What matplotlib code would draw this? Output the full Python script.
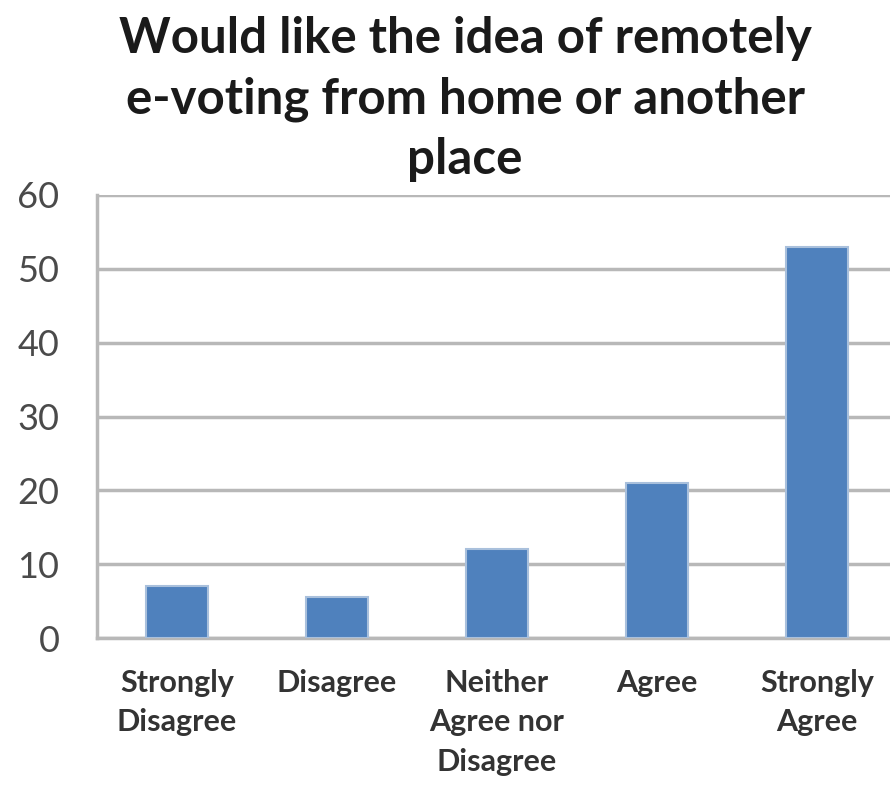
import numpy as np
import matplotlib.pyplot as plt

categories = ['Strongly\nDisagree', 'Disagree', 'Neither\nAgree nor\nDisagree', 'Agree', 'Strongly\nAgree']
values = [7, 5.5, 12, 21, 53]
yticks = [0, 10, 20, 30, 40, 50, 60]

plt.rcParams['font.family'] = ['Lato', 'DejaVu Sans']

fig = plt.figure(figsize=(8.9, 7.87), dpi=100)
ax = fig.add_axes([97 / 890, 149 / 787, 800 / 890, 443 / 787])

x = np.arange(len(categories))
ax.bar(x, values, width=0.39, color='#4F81BD', edgecolor='#A9C0DC', linewidth=1.5, zorder=3)

ax.set_xlim(-0.5, 4.5)
ax.set_ylim(0, 60)
ax.set_yticks(yticks)
ax.set_yticklabels([str(t) for t in yticks], fontsize=26, color='#4a4a4a')
ax.set_xticks(x)
ax.set_xticklabels(categories, fontsize=22, fontweight='bold', color='#333333', linespacing=1.5)
ax.tick_params(axis='both', length=0)
ax.tick_params(axis='y', pad=27)
ax.tick_params(axis='x', pad=22)

ax.grid(axis='y', color='#B8B8B8', linewidth=2.5, zorder=0)
for side in ['top', 'right']:
    ax.spines[side].set_visible(False)
for side in ['left', 'bottom']:
    ax.spines[side].set_color('#B8B8B8')
    ax.spines[side].set_linewidth(2.5)

fig.text(465 / 890, 1 - 99 / 787, 'Would like the idea of remotely\ne-voting from home or another\nplace',
         ha='center', va='center', fontsize=35.5, fontweight='bold', color='#1a1a1a', linespacing=1.42)

fig.savefig('out.png', dpi=100)
